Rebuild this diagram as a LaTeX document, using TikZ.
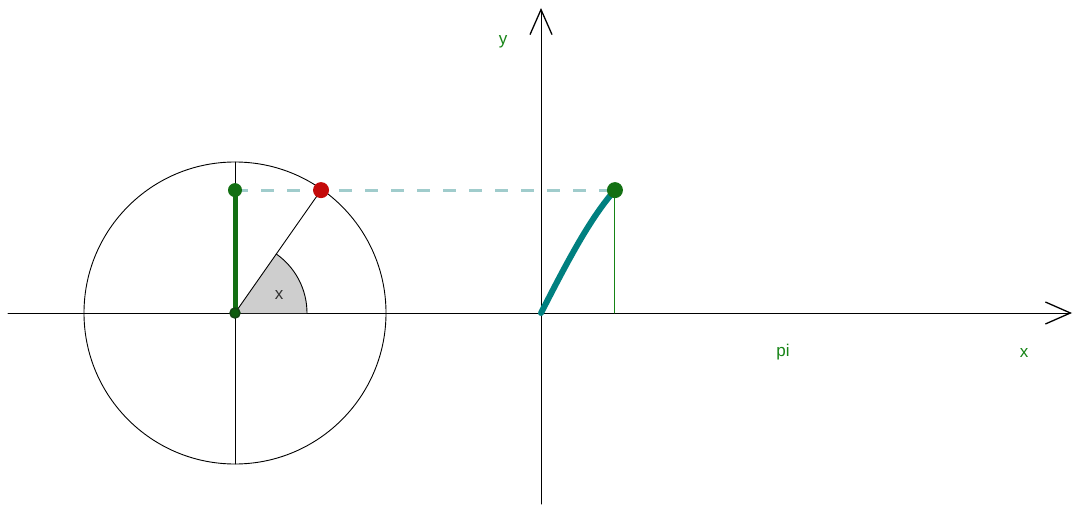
\documentclass[tikz,border=0pt]{standalone}
\usepackage{fontspec}
\setmainfont{Liberation Sans}
\usetikzlibrary{arrows.meta}

\begin{document}
\begin{tikzpicture}[x=1pt,y=1pt,line cap=round,line join=round,
  >={Straight Barb[length=25pt,width=22pt,line width=1.3pt]},
  axis/.style={black,line width=1pt},
  thin line/.style={black,line width=0.9pt},
  dot/.style={circle,inner sep=0pt,minimum size=16pt},
  lbl/.style={font=\fontsize{17}{20}\selectfont,text=ptgreen}]
  \definecolor{ptgreen}{RGB}{22,132,22}
  \definecolor{ptdark}{RGB}{20,70,20}
  \definecolor{ptred}{RGB}{196,10,10}
  \definecolor{curvecol}{RGB}{0,128,128}
  \definecolor{dashcol}{RGB}{160,204,204}
  \definecolor{wedge}{RGB}{206,206,206}

  \useasboundingbox (0,0) rectangle (1075,504);

  % ---- axes ----
  \coordinate (xl) at (8,191);
  \coordinate (xr) at (1072,191);
  \coordinate (yb) at (541,0);
  \coordinate (yt) at (541,496);
  \draw[axis,->] (xl) -- (xr);
  \draw[axis,->] (yb) -- (yt);

  % ---- unit circle ----
  \coordinate (O) at (235,191);
  \draw[thin line] (O) circle (151);
  \draw[thin line] (235,40) -- (235,342);
  \path (O) ++(55:150) coordinate (P);

  % angle wedge
  \fill[wedge] (O) -- ++(0:72) arc (0:55:72) -- cycle;
  \draw[thin line] (O) ++(0:72) arc (0:55:72);
  \draw[thin line] (O) -- (P);
  \node[font=\fontsize{17}{20}\selectfont,text=black!80] (xang) at (279,209) {x};

  % ---- sine graph ----
  \coordinate (S) at ({541+55*242/180},{191+150*sin(55)});
  \coordinate (Sfoot) at ({541+55*242/180},191);
  \coordinate (Q) at (235,{191+150*sin(55)});

  % projection line
  \draw[dashcol,line width=3pt,dash pattern=on 13pt off 13pt,line cap=butt] (Q) -- (S);

  % sine projection on circle
  \draw[ptgreen!85!black,line width=5pt,line cap=butt] (O) -- (Q);

  % curve and ordinate
  \draw[ptgreen,line width=1pt] (Sfoot) -- (S);
  \draw[curvecol,line width=6pt] plot[domain=0:55,samples=40]
    ({541+\x*242/180},{191+150*sin(\x)});

  % ---- points ----
  \node[dot,fill=ptgreen!85!black,minimum size=14pt] (qpt) at (Q) {};
  \node[dot,fill=ptred] (ppt) at (P) {};
  \node[dot,fill=ptgreen!85!black] (spt) at (S) {};
  \node[dot,draw=ptdark,line width=1.5pt,fill=ptgreen!70!black,minimum size=10pt] (opt) at (O) {};

  % ---- labels ----
  \node[lbl] (ylbl) at (503,462) {y};
  \node[lbl] (pilbl) at (783,152) {pi};
  \node[lbl] (xlbl) at (1024,151) {x};
\end{tikzpicture}
\end{document}
